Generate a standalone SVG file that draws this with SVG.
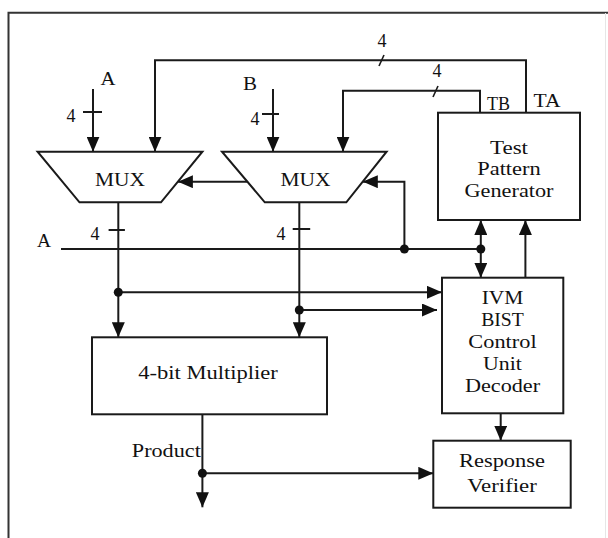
<svg xmlns="http://www.w3.org/2000/svg" width="608" height="538" viewBox="0 0 608 538">
<style>
.t{font-family:"Liberation Serif","Times New Roman",serif;font-size:18px;fill:#111;text-anchor:middle}
.w{fill:none;stroke:#1a1a1a;stroke-width:2}
.b{fill:#fff;stroke:#1a1a1a;stroke-width:2}
.s{fill:none;stroke:#1a1a1a;stroke-width:1.6}
.d{fill:#111}
.a{marker-end:url(#ah)}
</style>
<defs>
<marker id="ah" markerUnits="userSpaceOnUse" markerWidth="15" markerHeight="13" refX="15" refY="6.5" orient="auto-start-reverse" viewBox="0 0 15 13">
<path d="M0,0 L15,6.5 L0,13 z" fill="#111"/>
</marker>
</defs>
<rect width="608" height="538" fill="#fff"/>
<g id="frame">
<path d="M8.5,538 V12.7 H608" fill="none" stroke="#333" stroke-width="2"/>
<line x1="605.5" y1="13" x2="605.5" y2="538" stroke="#e6e6e6" stroke-width="1"/>
</g>
<g id="connectors">
<path class="w a" d="M526,112.7 V60.3 H155 V151.7"/>
<path class="w a" d="M480,112.7 V90.7 H343 V151.7"/>
<path class="w a" d="M93,89 V151.7"/>
<path class="w a" d="M273,89 V151.7"/>
<line class="w" x1="83" y1="112" x2="102" y2="112"/>
<line class="w" x1="262" y1="114" x2="279" y2="114"/>
<line class="s" x1="379" y1="66" x2="384" y2="55"/>
<line class="s" x1="433" y1="97" x2="438" y2="86"/>
<path class="w a" d="M247.4,181.7 H177.9"/>
<path class="w a" d="M404.4,249 V181.7 H362.8"/>
<path class="w a" d="M118.3,202.3 V337.3"/>
<path class="w a" d="M299.3,202.3 V337.3"/>
<line class="w" x1="108.6" y1="230" x2="124.9" y2="230"/>
<line class="w" x1="292.7" y1="229" x2="310.2" y2="229"/>
<path class="w" d="M61,249 H480.8"/>
<path class="w a" d="M118.3,292.3 H442"/>
<path class="w a" d="M299.3,310 H437"/>
<path class="w a" d="M480.8,249 V277.7"/>
<path class="w a" d="M480.8,249 V220"/>
<path class="w a" d="M525.4,277.7 V220"/>
<path class="w a" d="M500.7,413.3 V440.7"/>
<path class="w a" d="M202.4,414.3 V507.3"/>
<path class="w a" d="M202.4,473.3 H433.3"/>
<circle class="d" cx="404.4" cy="249" r="4.5"/>
<circle class="d" cx="480.8" cy="249" r="4.5"/>
<circle class="d" cx="118.3" cy="292.3" r="4.5"/>
<circle class="d" cx="299.3" cy="310" r="4.5"/>
<circle class="d" cx="202.4" cy="473.3" r="4.5"/>
</g>
<g id="labels">
<text class="t" x="382" y="46.5">4</text>
<text class="t" x="437" y="76.5">4</text>
<text class="t" x="108" y="85" textLength="15" lengthAdjust="spacingAndGlyphs">A</text>
<text class="t" x="250" y="90" textLength="14" lengthAdjust="spacingAndGlyphs">B</text>
<text class="t" x="71" y="121.7">4</text>
<text class="t" x="255" y="125">4</text>
<text class="t" x="498.5" y="110" textLength="23" lengthAdjust="spacingAndGlyphs">TB</text>
<text class="t" x="547" y="107" textLength="27" lengthAdjust="spacingAndGlyphs">TA</text>
<text class="t" x="44" y="247" textLength="14" lengthAdjust="spacingAndGlyphs">A</text>
<text class="t" x="95" y="240">4</text>
<text class="t" x="281" y="240">4</text>
<text class="t" x="166.3" y="457" textLength="69" lengthAdjust="spacingAndGlyphs">Product</text>
</g>
<g id="mux1">
<path class="b" d="M37.6,151.7 H202.4 L161,202.3 H79.5 Z"/>
<text class="t" x="120" y="185.7" textLength="50" lengthAdjust="spacingAndGlyphs">MUX</text>
</g>
<g id="mux2">
<path class="b" d="M222,151.7 H386.6 L346.3,202.3 H264.8 Z"/>
<text class="t" x="305.5" y="185.7" textLength="50" lengthAdjust="spacingAndGlyphs">MUX</text>
</g>
<g id="tpg">
<rect class="b" x="438" y="112.7" width="142" height="107.3"/>
<text class="t" x="509" y="154" textLength="38" lengthAdjust="spacingAndGlyphs">Test</text>
<text class="t" x="509" y="175" textLength="63.6" lengthAdjust="spacingAndGlyphs">Pattern</text>
<text class="t" x="509" y="196.7" textLength="89" lengthAdjust="spacingAndGlyphs">Generator</text>
</g>
<g id="multiplier">
<rect class="b" x="92" y="337.3" width="235" height="77"/>
<text class="t" x="208" y="379" textLength="139.6" lengthAdjust="spacingAndGlyphs">4-bit Multiplier</text>
</g>
<g id="ivm">
<rect class="b" x="442" y="277.7" width="121.3" height="135.6"/>
<text class="t" x="502.5" y="304" textLength="41.7" lengthAdjust="spacingAndGlyphs">IVM</text>
<text class="t" x="502.5" y="326.3" textLength="42.7" lengthAdjust="spacingAndGlyphs">BIST</text>
<text class="t" x="502.5" y="347.7" textLength="68.3" lengthAdjust="spacingAndGlyphs">Control</text>
<text class="t" x="502.5" y="370" textLength="38.8" lengthAdjust="spacingAndGlyphs">Unit</text>
<text class="t" x="502.5" y="391.7" textLength="75.2" lengthAdjust="spacingAndGlyphs">Decoder</text>
</g>
<g id="verifier">
<rect class="b" x="433.3" y="440.7" width="137.4" height="67"/>
<text class="t" x="502" y="467.3" textLength="86" lengthAdjust="spacingAndGlyphs">Response</text>
<text class="t" x="502" y="491.7" textLength="69.7" lengthAdjust="spacingAndGlyphs">Verifier</text>
</g>
</svg>
